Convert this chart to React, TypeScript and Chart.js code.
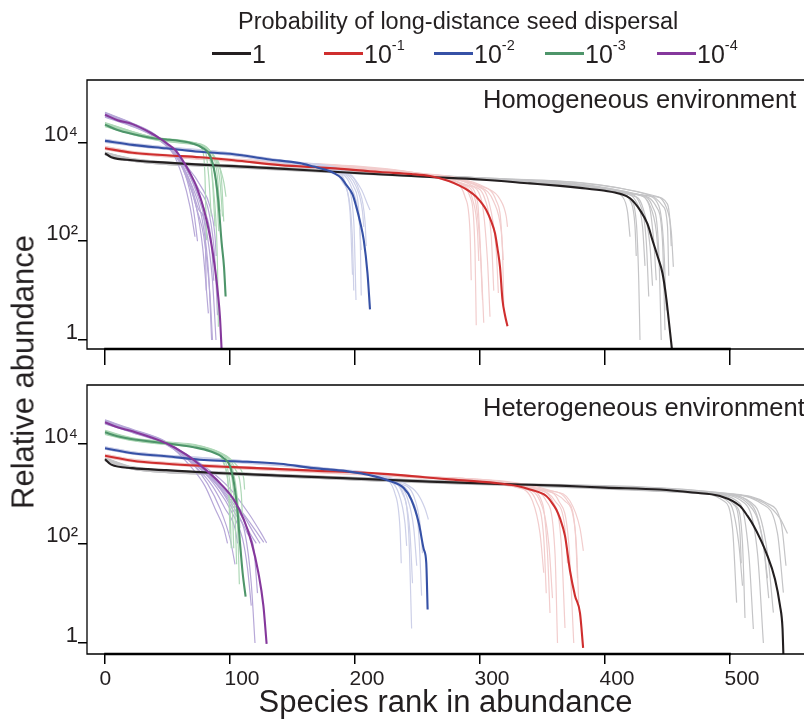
import React, { useEffect, useRef } from "react";
import { Chart, registerables } from "chart.js";

Chart.register(...registerables);

type Pt = [number, number]; // [species rank, log10(relative abundance)]

// ---------- text ----------
const LEGEND_TITLE = "Probability of long-distance seed dispersal";
const DISPERSAL_BASE = ["1", "10", "10", "10", "10"];
const DISPERSAL_EXP = ["", "-1", "-2", "-3", "-4"];
const PANEL_TITLES = ["Homogeneous environment", "Heterogeneous environment"];
const X_TITLE = "Species rank in abundance";
const Y_TITLE = "Relative abundance";
const RANK_TICKS = [0, 100, 200, 300, 400, 500];
const ABUNDANCE_TICKS = [1, 100, 10000];
const ABUNDANCE_TICK_LABELS = ["1", "10²", "10⁴"];

// ---------- colours ----------
const MAIN_COLORS = ["#231f20", "#cf2e2e", "#3651a6", "#4e956a", "#85389c"];
const REP_COLORS = ["#c4c4c6", "#f2cdcd", "#cdd0e8", "#aed8b7", "#b7a8d8"];

// ---------- homogeneous environment ----------
const HOMO_MAIN_1: Pt[] = [[0,3.78],[5,3.70],[22,3.64],[49,3.59],[76,3.55],[103,3.52],[140,3.47],[200,3.38],[260,3.30],[300,3.25],[340,3.17],[364,3.12],[380,3.08],[400,3.02],[412,2.96],[420,2.87],[428,2.63],[434,2.35],[438,2.02],[442,1.70],[446,1.35],[449,0.85],[451,0.40],[453.6,-0.20]];
const HOMO_MAIN_01: Pt[] = [[0,3.88],[22,3.79],[49,3.74],[76,3.70],[103,3.64],[140,3.54],[180,3.48],[220,3.40],[245,3.36],[260,3.32],[275,3.22],[284,3.12],[291,3.02],[297,2.90],[302,2.75],[305,2.63],[309,2.40],[312,2.16],[314,1.85],[316,1.48],[318,0.81],[320,0.50],[322,0.28]];
const HOMO_MAIN_001: Pt[] = [[0,4.03],[22,3.95],[49,3.88],[76,3.81],[103,3.76],[130,3.66],[156,3.58],[167,3.51],[176,3.45],[183,3.38],[189,3.28],[193,3.14],[198,2.95],[201,2.70],[204,2.40],[207,2.02],[210,1.35],[212,0.62]];
const HOMO_MAIN_0001: Pt[] = [[0,4.36],[10,4.25],[22,4.17],[40,4.08],[49,4.06],[60,4.03],[70,3.98],[78,3.89],[84,3.73],[88,3.35],[90.7,2.80],[93.3,1.97],[95.2,1.48],[96.5,0.88]];
const HOMO_MAIN_00001: Pt[] = [[0,4.56],[10,4.45],[22,4.37],[36,4.20],[45,4.06],[50,3.97],[56,3.85],[62,3.64],[68,3.38],[74,3.05],[79,2.65],[84,2.10],[88,1.45],[90.5,0.90],[92,0.45],[93.3,-0.20]];

const HOMO_REPS_1: Pt[][] = [
  [[0,3.80],[22,3.66],[100,3.54],[300,3.27],[405,3.00],[414,2.90],[418,2.60],[420,2.09]],
  [[0,3.75],[22,3.62],[100,3.50],[300,3.24],[410,2.98],[420,2.85],[425,2.40],[427,1.20],[428,0.00]],
  [[0,3.79],[22,3.65],[100,3.53],[300,3.26],[415,2.97],[425,2.80],[430,2.30],[432,1.50]],
  [[0,3.76],[22,3.63],[100,3.51],[300,3.25],[418,2.97],[428,2.75],[433,2.00],[435,0.88]],
  [[0,3.80],[22,3.66],[100,3.54],[300,3.28],[425,2.95],[435,2.75],[439,2.00],[441,1.21]],
  [[0,3.74],[22,3.62],[100,3.49],[300,3.24],[428,2.93],[438,2.70],[443,1.80],[445,0.00]],
  [[0,3.78],[22,3.65],[100,3.52],[300,3.27],[432,2.93],[443,2.72],[447,1.90],[449,0.60]],
  [[0,3.79],[22,3.66],[100,3.53],[300,3.28],[438,2.93],[449,2.69],[453,2.20],[454.7,1.48]],
  [[0,3.77],[22,3.64],[100,3.52],[300,3.26],[422,2.92],[430,2.70],[436,1.90],[438,1.10]],
  [[0,3.80],[22,3.67],[100,3.54],[300,3.28],[440,2.90],[450,2.75],[452,2.40],[453,1.90]],
  [[0,3.75],[22,3.62],[100,3.50],[300,3.25],[426,2.94],[436,2.72],[441,2.20],[443,1.60]],
  [[0,3.78],[22,3.65],[100,3.53],[300,3.27],[430,2.93],[441,2.70],[446,2.00],[448,0.20]],
  [[0,3.77],[22,3.64],[100,3.52],[300,3.26],[412,2.97],[421,2.78],[424,2.30],[425,1.70]],
  [[0,3.79],[22,3.66],[100,3.53],[300,3.28],[436,2.93],[446,2.72],[450,2.30],[451,1.30]],
];
const HOMO_REPS_01: Pt[][] = [
  [[0,3.91],[22,3.81],[100,3.66],[250,3.37],[280,3.18],[288,2.90],[292,2.20],[293,1.21]],
  [[0,3.86],[22,3.77],[100,3.62],[250,3.35],[283,3.15],[292,2.90],[296,1.80],[297,0.30]],
  [[0,3.90],[22,3.80],[100,3.65],[250,3.36],[287,3.14],[296,2.85],[300,1.90],[302,0.81]],
  [[0,3.87],[22,3.78],[100,3.63],[250,3.36],[292,3.12],[301,2.85],[306,1.60],[308,0.47]],
  [[0,3.91],[22,3.81],[100,3.66],[250,3.38],[297,3.12],[307,2.80],[313,1.80],[314.7,0.95]],
  [[0,3.86],[22,3.77],[100,3.62],[250,3.34],[300,3.10],[311,2.80],[317,2.20],[318.7,1.62]],
  [[0,3.92],[22,3.82],[100,3.67],[250,3.38],[305,3.08],[316,2.85],[321,2.50],[322,2.29]],
  [[0,3.88],[22,3.79],[100,3.64],[250,3.36],[290,3.13],[298,2.80],[301,1.50],[303,0.35]],
  [[0,3.89],[22,3.79],[100,3.64],[250,3.37],[294,3.12],[304,2.85],[309,2.10],[311,1.00]],
  [[0,3.87],[22,3.78],[100,3.63],[250,3.35],[302,3.10],[313,2.82],[318,1.80],[319,0.70]],
  [[0,3.90],[22,3.80],[100,3.66],[250,3.38],[285,3.15],[294,2.85],[298,2.20],[299,1.60]],
];
const HOMO_REPS_001: Pt[][] = [
  [[0,4.06],[22,3.97],[100,3.79],[150,3.60],[180,3.45],[190,3.20],[196,2.60],[198,1.32]],
  [[0,4.01],[22,3.93],[100,3.74],[150,3.57],[182,3.43],[193,3.15],[199,2.40],[200.8,0.81]],
  [[0,4.05],[22,3.96],[100,3.78],[150,3.59],[186,3.42],[197,3.10],[203,2.50],[205,1.82]],
  [[0,4.02],[22,3.94],[100,3.76],[150,3.60],[190,3.40],[201,3.10],[206,2.60],[207,2.29]],
  [[0,4.06],[22,3.98],[100,3.79],[150,3.61],[195,3.38],[205,3.05],[210,2.75],[212,2.63]],
  [[0,4.00],[22,3.93],[100,3.74],[150,3.56],[184,3.42],[194,3.00],[198,2.00],[199,1.00]],
  [[0,4.04],[22,3.96],[100,3.77],[150,3.60],[188,3.41],[199,3.10],[204,2.20],[205,0.90]],
  [[0,4.02],[22,3.94],[100,3.75],[150,3.58],[192,3.39],[203,3.05],[208,2.40],[209,1.90]],
];
const HOMO_REPS_0001: Pt[][] = [
  [[0,4.40],[40,4.10],[70,4.00],[78,3.85],[80,3.30],[81.3,2.02]],
  [[0,4.33],[40,4.06],[70,3.97],[80,3.85],[83,3.30],[85,2.50]],
  [[0,4.38],[40,4.09],[70,3.99],[83,3.80],[86,3.20],[88,2.30]],
  [[0,4.32],[40,4.05],[70,3.96],[82,3.80],[87,3.00],[90,1.50],[90.7,0.27]],
  [[0,4.39],[40,4.10],[70,4.00],[86,3.75],[90,3.30],[92,2.60]],
  [[0,4.35],[40,4.08],[70,3.98],[88,3.70],[93,3.30],[95,2.40]],
  [[0,4.37],[40,4.09],[70,3.99],[90,3.60],[95,3.20],[96.8,2.90]],
  [[0,4.34],[40,4.07],[70,3.97],[84,3.78],[89,3.10],[91,2.20]],
  [[0,4.36],[40,4.09],[70,3.98],[87,3.72],[92,3.20],[94,2.50]],
];
const HOMO_REPS_00001: Pt[][] = [
  [[0,4.60],[20,4.40],[40,4.15],[55,3.75],[62,3.30],[68,2.70],[72,2.09]],
  [[0,4.52],[20,4.36],[40,4.12],[58,3.70],[66,3.20],[71,2.60],[74,2.00]],
  [[0,4.58],[20,4.39],[40,4.14],[56,3.75],[65,3.30],[73,2.70],[78,1.90],[82.7,0.54]],
  [[0,4.55],[20,4.37],[40,4.13],[60,3.60],[70,3.10],[78,2.40],[83,1.30],[85.3,0.00]],
  [[0,4.51],[20,4.34],[40,4.10],[62,3.60],[73,3.00],[80,2.40],[86,1.20],[88.8,0.00]],
  [[0,4.61],[20,4.41],[40,4.16],[64,3.55],[75,3.05],[83,2.60],[88,1.60],[90,0.50]],
  [[0,4.53],[20,4.35],[40,4.11],[66,3.50],[77,3.10],[84,2.70],[88,2.10],[89,1.70]],
  [[0,4.57],[20,4.38],[40,4.13],[60,3.62],[68,3.20],[76,2.60],[80,2.30],[81,1.00]],
  [[0,4.59],[20,4.40],[40,4.14],[58,3.68],[67,3.20],[74,2.60],[79,2.10],[84,0.90],[86,0.00]],
  [[0,4.54],[20,4.36],[40,4.12],[62,3.58],[72,3.10],[80,2.60],[85,2.00],[87,1.20]],
];

// ---------- heterogeneous environment ----------
const HETERO_MAIN_1: Pt[] = [[0,3.69],[5,3.58],[22,3.51],[49,3.47],[76,3.43],[103,3.40],[140,3.36],[200,3.30],[260,3.24],[320,3.19],[364,3.16],[400,3.12],[444,3.08],[470,3.02],[492,2.95],[508,2.75],[514,2.55],[519,2.35],[524,2.10],[529,1.81],[536,1.28],[540,0.75],[542,0.30],[542.7,-0.22]];
const HETERO_MAIN_01: Pt[] = [[0,3.76],[22,3.66],[49,3.60],[76,3.56],[103,3.53],[140,3.49],[167,3.46],[220,3.40],[273,3.29],[313,3.21],[330,3.15],[340,3.08],[353,2.95],[358,2.80],[361,2.68],[364,2.50],[368,2.15],[372,1.45],[376,0.95],[380,0.60],[382.5,-0.10]];
const HETERO_MAIN_001: Pt[] = [[0,3.91],[22,3.81],[49,3.75],[76,3.68],[103,3.65],[140,3.60],[167,3.51],[193,3.45],[215,3.35],[228,3.25],[239,3.11],[245,2.88],[251,2.41],[255,1.88],[257,1.61],[258.1,0.67]];
const HETERO_MAIN_0001: Pt[] = [[0,4.23],[10,4.15],[22,4.09],[49,4.01],[71,3.93],[84,3.85],[95,3.71],[100,3.55],[103.2,3.21],[105.9,2.68],[108,2.01],[110.1,1.41],[112.5,0.93]];
const HETERO_MAIN_00001: Pt[] = [[0,4.43],[10,4.33],[22,4.25],[49,4.01],[65,3.78],[79,3.51],[92,3.21],[103,2.88],[111,2.48],[117.3,2.01],[122.7,1.41],[126.7,0.75],[129.3,-0.02]];

const HETERO_REPS_1: Pt[][] = [
  [[0,3.71],[22,3.53],[100,3.42],[300,3.22],[470,3.03],[495,2.85],[502,2.30],[505.3,0.81]],
  [[0,3.67],[22,3.49],[100,3.38],[300,3.19],[475,3.02],[500,2.80],[507,2.00],[510,1.15]],
  [[0,3.72],[22,3.54],[100,3.42],[300,3.23],[480,3.01],[508,2.80],[515,1.80],[518.7,0.28]],
  [[0,3.66],[22,3.49],[100,3.38],[300,3.18],[485,3.00],[512,2.80],[522,1.80],[526.7,0.00]],
  [[0,3.70],[22,3.52],[100,3.41],[300,3.21],[490,3.00],[520,2.75],[530,1.80],[534.7,0.61]],
  [[0,3.68],[22,3.51],[100,3.40],[300,3.20],[495,3.00],[525,2.80],[538,2.20],[542.7,1.01]],
  [[0,3.71],[22,3.53],[100,3.42],[300,3.22],[500,3.00],[530,2.80],[541,2.40],[544.8,1.55]],
  [[0,3.67],[22,3.50],[100,3.39],[300,3.20],[488,2.98],[505,2.75],[510,2.00],[512,0.50]],
  [[0,3.70],[22,3.52],[100,3.41],[300,3.21],[492,2.99],[515,2.78],[526,2.10],[530,1.30]],
  [[0,3.69],[22,3.51],[100,3.40],[300,3.20],[498,3.00],[528,2.80],[540,2.50],[546,2.20]],
  [[0,3.71],[22,3.53],[100,3.42],[300,3.22],[482,3.00],[503,2.78],[508,2.20],[509,1.60]],
  [[0,3.66],[22,3.49],[100,3.38],[300,3.19],[494,2.99],[518,2.75],[527,1.90],[531,0.90]],
];
const HETERO_REPS_01: Pt[][] = [
  [[0,3.79],[22,3.68],[100,3.55],[250,3.34],[330,3.12],[342,2.85],[348,2.20],[351,1.41]],
  [[0,3.74],[22,3.64],[100,3.51],[250,3.32],[335,3.10],[348,2.85],[355,2.00],[358,0.90]],
  [[0,3.78],[22,3.68],[100,3.55],[250,3.35],[340,3.10],[353,2.85],[360,1.80],[362,0.00]],
  [[0,3.74],[22,3.65],[100,3.52],[250,3.33],[345,3.08],[358,2.85],[365,2.00],[368,0.30]],
  [[0,3.78],[22,3.67],[100,3.54],[250,3.34],[350,3.08],[363,2.85],[371,2.00],[375,0.00]],
  [[0,3.73],[22,3.64],[100,3.51],[250,3.32],[352,3.06],[368,2.85],[376,2.30],[378,1.30]],
  [[0,3.79],[22,3.69],[100,3.55],[250,3.35],[358,3.05],[372,2.85],[380,2.30],[382.7,1.85]],
  [[0,3.75],[22,3.66],[100,3.53],[250,3.33],[338,3.10],[350,2.80],[354,1.80],[356,0.60]],
  [[0,3.77],[22,3.67],[100,3.54],[250,3.34],[347,3.08],[360,2.85],[368,2.30],[370,1.60]],
  [[0,3.74],[22,3.65],[100,3.52],[250,3.33],[355,3.06],[370,2.85],[377,2.00],[379,0.80]],
  [[0,3.78],[22,3.68],[100,3.55],[250,3.35],[333,3.11],[345,2.85],[351,2.10],[353,1.00]],
];
const HETERO_REPS_001: Pt[][] = [
  [[0,3.94],[22,3.84],[100,3.68],[180,3.50],[225,3.28],[235,3.00],[240,2.40],[241.3,1.95]],
  [[0,3.89],[22,3.79],[100,3.63],[180,3.47],[228,3.25],[238,3.00],[243,2.20],[245.3,0.29]],
  [[0,3.93],[22,3.83],[100,3.67],[180,3.49],[232,3.22],[242,2.90],[247,2.30],[249.4,1.55]],
  [[0,3.89],[22,3.80],[100,3.64],[180,3.48],[235,3.20],[245,2.90],[251,2.20],[253.3,0.95]],
  [[0,3.94],[22,3.84],[100,3.68],[180,3.50],[240,3.20],[250,3.00],[256,2.70],[258.7,2.48]],
  [[0,3.90],[22,3.80],[100,3.65],[180,3.48],[230,3.22],[240,2.90],[244,2.20],[246,1.20]],
  [[0,3.92],[22,3.82],[100,3.66],[180,3.49],[236,3.20],[247,2.95],[252,2.40],[254,1.80]],
  [[0,3.91],[22,3.81],[100,3.66],[180,3.49],[222,3.30],[232,3.00],[236,2.30],[237,1.60]],
];
const HETERO_REPS_0001: Pt[][] = [
  [[0,4.27],[22,4.12],[50,4.04],[85,3.88],[95,3.60],[99,3.00],[100,2.20]],
  [[0,4.20],[22,4.07],[50,3.99],[88,3.84],[98,3.50],[102,2.60],[103,1.90]],
  [[0,4.25],[22,4.11],[50,4.02],[90,3.82],[100,3.50],[104,2.60],[105.3,1.58]],
  [[0,4.19],[22,4.06],[50,3.98],[92,3.80],[101,3.45],[106,2.40],[107.5,1.18]],
  [[0,4.26],[22,4.10],[50,4.02],[95,3.78],[104,3.50],[109,3.00],[110,2.50]],
  [[0,4.22],[22,4.08],[50,4.00],[97,3.76],[106,3.55],[111,3.30],[111.7,3.08]],
  [[0,4.24],[22,4.10],[50,4.01],[93,3.80],[102,3.50],[106,2.90],[108,2.30]],
  [[0,4.21],[22,4.07],[50,3.99],[86,3.86],[96,3.55],[100,2.70],[101,1.90]],
];
const HETERO_REPS_00001: Pt[][] = [
  [[0,4.47],[22,4.28],[49,4.03],[70,3.60],[82,3.20],[92,2.70],[100,2.10],[104,1.58]],
  [[0,4.40],[22,4.22],[49,3.98],[72,3.55],[86,3.15],[96,2.70],[104,2.30],[106,2.00]],
  [[0,4.45],[22,4.27],[49,4.02],[74,3.55],[90,3.10],[102,2.60],[110,2.10],[114,1.50],[117,0.75]],
  [[0,4.42],[22,4.24],[49,4.00],[76,3.50],[92,3.10],[104,2.60],[112,2.20],[117,1.20],[120,0.00]],
  [[0,4.48],[22,4.29],[49,4.04],[78,3.50],[95,3.05],[108,2.60],[116,2.20],[121,2.00]],
  [[0,4.41],[22,4.23],[49,3.99],[80,3.45],[98,3.00],[112,2.55],[122,2.20],[127,2.02]],
  [[0,4.46],[22,4.27],[49,4.02],[82,3.50],[100,3.10],[115,2.60],[125,2.20],[129.3,2.01]],
  [[0,4.44],[22,4.26],[49,4.01],[70,3.50],[80,3.15],[88,2.70],[95,2.30],[98,2.00]],
  [[0,4.43],[22,4.25],[49,4.00],[77,3.48],[94,3.05],[106,2.60],[114,2.20],[119,1.90],[122,1.00]],
  [[0,4.45],[22,4.26],[49,4.01],[79,3.48],[97,3.05],[110,2.60],[118,2.25],[124,2.00]],
];

const HOMO_MAIN = [HOMO_MAIN_1, HOMO_MAIN_01, HOMO_MAIN_001, HOMO_MAIN_0001, HOMO_MAIN_00001];
const HOMO_REPS = [HOMO_REPS_1, HOMO_REPS_01, HOMO_REPS_001, HOMO_REPS_0001, HOMO_REPS_00001];
const HETERO_MAIN = [HETERO_MAIN_1, HETERO_MAIN_01, HETERO_MAIN_001, HETERO_MAIN_0001, HETERO_MAIN_00001];
const HETERO_REPS = [HETERO_REPS_1, HETERO_REPS_01, HETERO_REPS_001, HETERO_REPS_0001, HETERO_REPS_00001];

// ---------- layout ----------
const FONT = "'Liberation Sans', Arial, Helvetica, sans-serif";
const INK = "#231f20";
const W = 804;
const AREA_LEFT = 87;
const X_MIN = -14.4;
const X_MAX = 559.2;
const REP_ORDER = [0, 1, 2, 4, 3];
const LEGEND_LINE_X = [212, 324, 434, 545, 657];
const LEGEND_LINE_LEN = 39;

const toXY = (pts: Pt[]) => pts.map(([r, l]) => ({ x: r, y: Math.pow(10, l) }));

const framePlugin = {
  id: "frame",
  afterDatasetsDraw(chart: any) {
    const { ctx, chartArea: a, scales } = chart;
    const x = scales.x;
    ctx.save();
    ctx.strokeStyle = "#000";
    ctx.lineWidth = 1.3;
    ctx.beginPath();
    ctx.moveTo(a.right + 2, a.top);
    ctx.lineTo(a.left, a.top);
    ctx.lineTo(a.left, a.bottom);
    ctx.lineTo(a.right + 2, a.bottom);
    ctx.stroke();
    ctx.lineWidth = 2.3;
    ctx.beginPath();
    ctx.moveTo(x.getPixelForValue(RANK_TICKS[0]) - 0.8, a.bottom);
    ctx.lineTo(x.getPixelForValue(RANK_TICKS[RANK_TICKS.length - 1]) + 0.8, a.bottom);
    ctx.stroke();
    ctx.restore();
  },
};

type PanelProps = {
  mains: Pt[][];
  reps: Pt[][][];
  top: number;
  height: number;
  areaTop: number;
  areaBottom: number;
  logMin: number;
  logMax: number;
  tickLen: number;
  bottomPanel: boolean;
};

function Panel(p: PanelProps) {
  const ref = useRef<HTMLCanvasElement | null>(null);
  useEffect(() => {
    if (!ref.current) return;
    const layers: any[] = [];
    REP_ORDER.forEach((i) => {
      p.reps[i].forEach((r) => {
        layers.push({
          data: toXY(r),
          borderColor: REP_COLORS[i],
          borderWidth: 1.2,
          pointRadius: 0,
          fill: false,
          cubicInterpolationMode: "monotone",
        });
      });
    });
    p.mains.forEach((m, i) => {
      layers.push({
        data: toXY(m),
        borderColor: MAIN_COLORS[i],
        borderWidth: 2.1,
        pointRadius: 0,
        fill: false,
        cubicInterpolationMode: "monotone",
      });
    });
    // Chart.js paints the first dataset last (on top), so reverse the layer list
    const datasets = layers.slice().reverse();
    const xAxisHeight = p.height - (p.areaBottom - p.top);
    const chart = new Chart(ref.current, {
      type: "line",
      data: { datasets },
      plugins: [framePlugin],
      options: {
        animation: false,
        responsive: false,
        devicePixelRatio: 1,
        events: [],
        layout: { padding: { top: p.areaTop - p.top, left: 0, right: 0, bottom: 0 } },
        plugins: { legend: { display: false }, tooltip: { enabled: false } },
        scales: {
          x: {
            type: "linear",
            min: X_MIN,
            max: X_MAX,
            afterBuildTicks: (s: any) => {
              s.ticks = RANK_TICKS.map((v) => ({ value: v }));
            },
            afterFit: (s: any) => {
              s.height = xAxisHeight;
              s.paddingLeft = 0;
              s.paddingRight = 0;
            },
            border: { display: false },
            grid: {
              drawOnChartArea: false,
              drawTicks: true,
              tickLength: p.tickLen,
              color: "#000",
              lineWidth: 1.5,
            },
            ticks: {
              display: p.bottomPanel,
              align: "start",
              labelOffset: -5.5,
              padding: 3,
              color: INK,
              font: { family: FONT, size: 21 },
              maxRotation: 0,
              autoSkip: false,
              callback: (v: any) => String(v),
            },
            title: {
              display: p.bottomPanel,
              text: X_TITLE,
              color: INK,
              font: { family: FONT, size: 31 },
              padding: { top: 0, bottom: 1 },
            },
          },
          y: {
            type: "logarithmic",
            min: Math.pow(10, p.logMin),
            max: Math.pow(10, p.logMax),
            afterBuildTicks: (s: any) => {
              s.ticks = ABUNDANCE_TICKS.map((v) => ({ value: v }));
            },
            afterFit: (s: any) => {
              s.width = AREA_LEFT;
              s.paddingTop = 0;
              s.paddingBottom = 0;
            },
            border: { display: false },
            grid: {
              drawOnChartArea: false,
              drawTicks: true,
              tickLength: 9,
              color: "#000",
              lineWidth: 1.5,
            },
            ticks: {
              padding: 0,
              labelOffset: -7,
              color: INK,
              font: { family: FONT, size: 22 },
              autoSkip: false,
              callback: (v: any) => {
                const k = ABUNDANCE_TICKS.indexOf(Number(v));
                return k >= 0 ? ABUNDANCE_TICK_LABELS[k] : "";
              },
            },
          },
        },
      } as any,
    });
    return () => chart.destroy();
  }, []);
  return (
    <canvas
      ref={ref}
      width={W}
      height={p.height}
      style={{ position: "absolute", left: 0, top: p.top, width: W, height: p.height }}
    />
  );
}

export default function App() {
  return (
    <div
      style={{
        position: "absolute",
        left: 0,
        top: 0,
        width: W,
        height: 723,
        overflow: "hidden",
        background: "#fff",
        fontFamily: FONT,
        color: INK,
      }}
    >
      <Panel
        mains={HOMO_MAIN}
        reps={HOMO_REPS}
        top={0}
        height={375}
        areaTop={80}
        areaBottom={349}
        logMin={-0.182}
        logMax={5.263}
        tickLen={16}
        bottomPanel={false}
      />
      <Panel
        mains={HETERO_MAIN}
        reps={HETERO_REPS}
        top={375}
        height={348}
        areaTop={385}
        areaBottom={654}
        logMin={-0.2}
        logMax={5.18}
        tickLen={10}
        bottomPanel={true}
      />

      {/* legend */}
      <div
        style={{
          position: "absolute",
          left: 238,
          top: 10,
          fontSize: 23.5,
          lineHeight: "23.5px",
          whiteSpace: "nowrap",
        }}
      >
        {LEGEND_TITLE}
      </div>
      {DISPERSAL_BASE.map((base, i) => (
        <React.Fragment key={i}>
          <div
            style={{
              position: "absolute",
              left: LEGEND_LINE_X[i],
              top: 52.1,
              width: LEGEND_LINE_LEN,
              height: 2.5,
              background: MAIN_COLORS[i],
            }}
          />
          <div
            style={{
              position: "absolute",
              left: LEGEND_LINE_X[i] + LEGEND_LINE_LEN + 1,
              top: 42,
              fontSize: 25,
              lineHeight: "25px",
              whiteSpace: "nowrap",
            }}
          >
            {base}
            {DISPERSAL_EXP[i] ? (
              <span style={{ fontSize: 14.5, position: "relative", top: -13 }}>{DISPERSAL_EXP[i]}</span>
            ) : null}
          </div>
        </React.Fragment>
      ))}

      {/* panel titles */}
      <div style={{ position: "absolute", left: 483, top: 86.7, fontSize: 25.5, lineHeight: "25.5px", whiteSpace: "nowrap" }}>
        {PANEL_TITLES[0]}
      </div>
      <div style={{ position: "absolute", left: 483, top: 395, fontSize: 25.5, lineHeight: "25.5px", whiteSpace: "nowrap" }}>
        {PANEL_TITLES[1]}
      </div>

      {/* y axis title */}
      <div
        style={{
          position: "absolute",
          left: 23,
          top: 371.5,
          fontSize: 31,
          lineHeight: "31px",
          whiteSpace: "nowrap",
          transform: "translate(-50%, -50%) rotate(-90deg)",
        }}
      >
        {Y_TITLE}
      </div>
    </div>
  );
}
